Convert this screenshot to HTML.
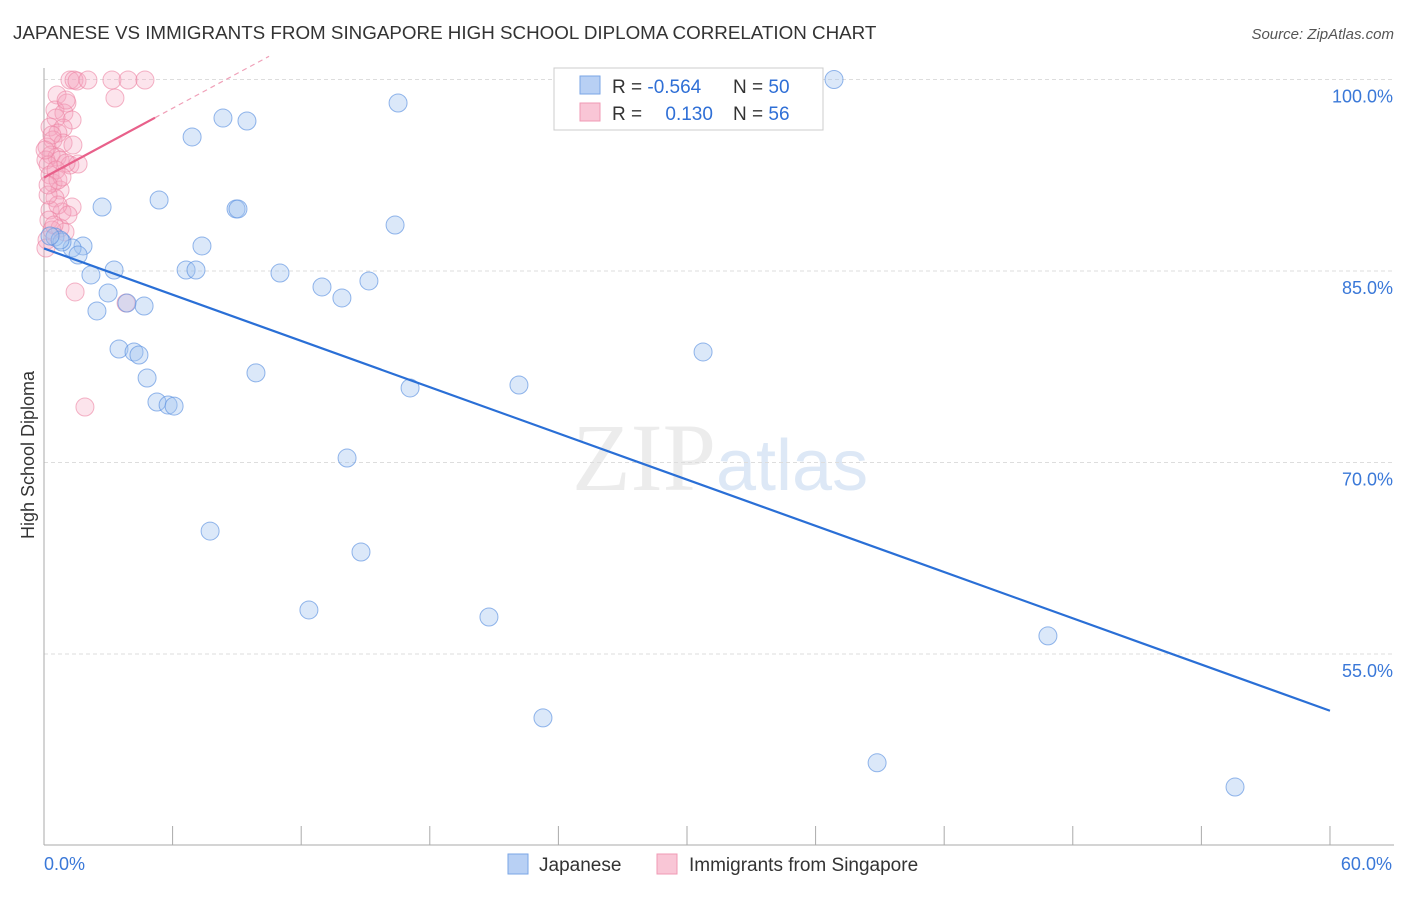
<!DOCTYPE html>
<html><head><meta charset="utf-8"><style>
body{margin:0;background:#fff;font-family:"Liberation Sans",sans-serif}
</style></head><body>
<svg id="chart" width="1406" height="892" xmlns="http://www.w3.org/2000/svg">
<text x="13" y="39" font-size="18.8" fill="#333">JAPANESE VS IMMIGRANTS FROM SINGAPORE HIGH SCHOOL DIPLOMA CORRELATION CHART</text>
<text x="1394" y="39" font-size="15" fill="#555" font-style="italic" text-anchor="end">Source: ZipAtlas.com</text>
<text x="716" y="490" font-size="96" fill="#ececec" text-anchor="end" font-family="Liberation Serif">ZIP</text>
<text x="716" y="490" font-size="72" fill="#dde8f6">atlas</text>
<g id="grid"></g>
<g id="axes"></g>
<g id="pts"></g>
<g id="lines"></g>
<text transform="translate(34,455) rotate(-90)" font-size="18" fill="#333" text-anchor="middle">High School Diploma</text>
<g>
<rect x="554" y="68" width="269" height="62" fill="#fff" stroke="#ccc"/>
<rect x="580" y="76" width="20" height="18" fill="#b8d0f4" stroke="#7aa6e6"/>
<rect x="580" y="103" width="20" height="18" fill="#f9c6d6" stroke="#f09ab4"/>
<text x="612" y="93" font-size="19" fill="#333">R = <tspan fill="#2f6fd6">-0.564</tspan></text>
<text x="733" y="93" font-size="19" fill="#333">N = <tspan fill="#2f6fd6">50</tspan></text>
<text x="612" y="120" font-size="19" fill="#333">R = <tspan fill="#2f6fd6" dx="18">0.130</tspan></text>
<text x="733" y="120" font-size="19" fill="#333">N = <tspan fill="#2f6fd6">56</tspan></text>
</g>
<g>
<rect x="508" y="854" width="20" height="20" fill="#b8d0f4" stroke="#7aa6e6"/>
<text x="539" y="871" font-size="19" fill="#333">Japanese</text></g>
<g>
<rect x="657" y="854" width="20" height="20" fill="#f9c6d6" stroke="#f09ab4"/>
<text x="689" y="871" font-size="19" fill="#333">Immigrants from Singapore</text></g>
</svg>
<script>
const blueX=[36.86,16.52,8.35,9.47,6.91,5.37,2.71,8.96,9.05,16.38,7.37,1.82,0.51,1.31,1.59,0.84,3.27,6.63,7.09,11.01,2.19,12.97,15.16,13.90,2.99,2.47,4.67,3.87,3.50,4.20,4.43,30.75,9.89,4.81,17.08,22.16,5.27,5.79,6.07,14.14,7.75,14.79,12.36,20.76,46.84,23.28,38.87,55.57,0.75,0.28];
const blueY=[100.0,98.16,96.98,96.75,95.50,90.56,90.01,89.86,89.86,88.60,86.96,86.96,87.66,86.80,86.25,87.27,85.08,85.08,85.08,84.84,84.69,83.75,84.22,82.89,83.28,81.87,82.26,82.49,78.89,78.66,78.42,78.66,77.02,76.62,75.84,76.07,74.74,74.50,74.42,70.35,64.63,62.99,58.45,57.90,56.42,50.00,46.48,44.58,87.43,87.74];
const pinkX=[1.21,1.40,1.54,2.05,3.17,3.92,4.71,3.31,0.61,1.07,0.51,0.93,1.31,0.56,0.28,0.89,0.65,0.42,0.14,0.89,0.33,0.61,0.09,0.75,1.21,0.19,1.59,1.03,0.28,0.42,0.75,0.51,1.31,0.28,0.84,0.65,0.23,0.75,0.98,0.14,0.37,0.09,1.45,3.83,1.91,0.19,0.56,1.03,0.37,0.05,0.65,1.12,1.35,0.84,0.47,0.19];
const pinkY=[99.96,99.96,99.88,99.96,99.96,99.96,99.96,98.55,98.79,98.16,97.61,97.38,96.83,96.98,96.28,96.20,95.81,95.26,94.71,95.03,94.09,93.93,93.69,93.69,93.30,93.30,93.38,93.46,92.52,91.89,91.34,90.72,90.01,89.78,89.62,90.17,88.99,88.37,88.06,87.43,88.21,86.80,83.36,82.49,74.35,90.95,92.91,98.39,95.65,94.48,92.13,89.39,94.87,92.36,88.60,91.74];
const yTicks=[100,85,70,55];
const xTickLabels=["0.0%","60.0%"];
const NS="http://www.w3.org/2000/svg";
const sx=v=>44+v*21.433, sy=v=>79.5+(100-v)*12.767;
function mk(p,t,a){const e=document.createElementNS(NS,t);for(const k in a)e.setAttribute(k,a[k]);document.getElementById(p).appendChild(e);return e;}
yTicks.forEach(t=>{
 const l=mk('grid','line',{x1:44,x2:1394,y1:sy(t),y2:sy(t),stroke:'#ddd','stroke-dasharray':'4,3'});
 
 
 const tx=mk('grid','text',{x:1393,y:sy(t)+23,'font-size':18,fill:'#3a78d8','text-anchor':'end'});
 tx.textContent=t.toFixed(1)+'%';
 
 
});
mk('axes','line',{x1:44,x2:44,y1:68,y2:845,stroke:'#aaa'});
mk('axes','line',{x1:44,x2:1394,y1:845,y2:845,stroke:'#aaa'});
for(let i=0;i<=10;i++){const x=sx(i*6);const t=mk('axes','line',{x1:x,x2:x,y1:826,y2:845,stroke:'#aaa'});
 
 }
[[0,'start'],[60,'end']].forEach((d,i)=>{const t=mk('axes','text',{x:sx(d[0])+(i?62:0),y:870,'font-size':18,fill:'#3a78d8','text-anchor':d[1]});t.textContent=xTickLabels[i];
 
 });
function pts(X,Y,fill,stroke,name){X.forEach((x,i)=>{const c=mk('pts','circle',{cx:sx(x),cy:sy(Y[i]),r:9,fill:fill,stroke:stroke,'stroke-width':1});
 
 });}
pts(pinkX,pinkY,'rgba(246,165,192,0.3)','rgba(236,130,162,0.6)','singapore-point');
pts(blueX,blueY,'rgba(160,195,240,0.38)','rgba(90,145,225,0.65)','japanese-point');
function fit(X,Y){const n=X.length;let mx=0,my=0;X.forEach((x,i)=>{mx+=x;my+=Y[i]});mx/=n;my/=n;let sxy=0,sxx=0;X.forEach((x,i)=>{sxy+=(x-mx)*(Y[i]-my);sxx+=(x-mx)**2});const b=sxy/sxx;return [my-b*mx,b];}
const bf=fit(blueX,blueY);
const bl=mk('lines','line',{x1:sx(0),y1:sy(bf[0]),x2:sx(60),y2:sy(bf[0]+60*bf[1]),stroke:'#2a6fd6','stroke-width':2.2});


const pf=fit(pinkX,pinkY);const pmax=Math.max(...pinkX)*1.1;
const pl=mk('lines','line',{x1:sx(0),y1:sy(pf[0]),x2:sx(pmax),y2:sy(pf[0]+pmax*pf[1]),stroke:'#e8608a','stroke-width':2.2});


const xe=10.5;
const pd=mk('lines','line',{x1:sx(pmax),y1:sy(pf[0]+pmax*pf[1]),x2:sx(xe),y2:sy(pf[0]+xe*pf[1]),stroke:'#f0a0b8','stroke-width':1.2,'stroke-dasharray':'5,4'});


</script>
</body></html>
